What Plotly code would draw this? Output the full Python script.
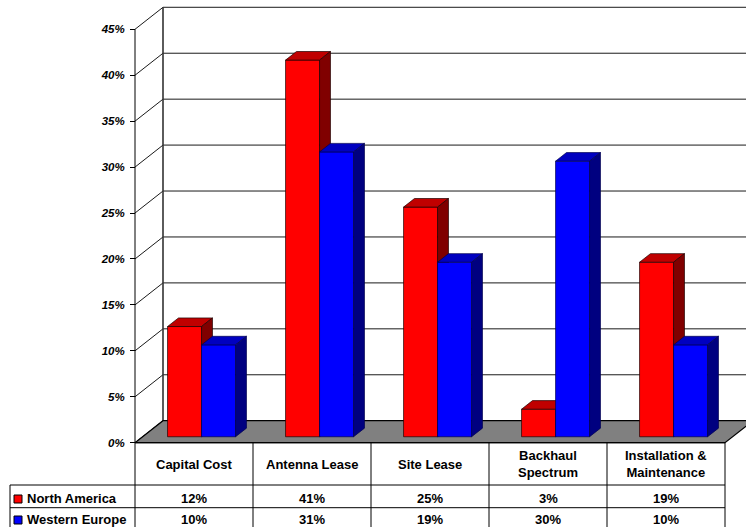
import plotly.graph_objects as go

# ---------------- data ----------------
categories = ["Capital Cost", "Antenna Lease", "Site Lease", "Backhaul<br>Spectrum", "Installation &<br>Maintenance"]
series_names = ["North America", "Western Europe"]
north_america = [12, 41, 25, 3, 19]
western_europe = [10, 31, 19, 30, 10]
tick_values = [0, 5, 10, 15, 20, 25, 30, 35, 40, 45]

# ---------------- layout constants (pixel geometry) ----------------
W, H = 746, 527
PX_X0 = 135.0        # front-left corner of plot (px)
CAT_W = 118.0        # px per category
Y0_PX = 442.7        # 0% baseline (px)
PX_PER_PCT = 9.187   # px per 1%

def xu(px):  # pixel x -> data x
    return (px - PX_X0) / CAT_W

def yu(py):  # pixel y -> data y
    return (Y0_PX - py) / PX_PER_PCT

X_RANGE = [xu(0), xu(W)]
Y_RANGE = [yu(H), yu(0)]
DX = 28 / CAT_W
DY = 22 / PX_PER_PCT
Z0, Z1 = 0.27, 0.66
BW = 34 / CAT_W
NCAT = len(categories)
YMAX = tick_values[-1]

FONT = "Liberation Sans, Arial, sans-serif"

fig = go.Figure()

# ---------- walls: gridlines ----------
gx, gy = [], []
for v in tick_values:
    gx += [0, DX, NCAT + DX + 0.3, None]
    gy += [v, v + DY, v + DY, None]
fig.add_trace(go.Scatter(x=gx, y=gy, mode="lines", line=dict(color="#1a1a1a", width=1),
                         hoverinfo="skip", showlegend=False))
# back wall left edge
fig.add_trace(go.Scatter(x=[DX, DX], y=[DY, YMAX + DY], mode="lines",
                         line=dict(color="#333333", width=1.6), hoverinfo="skip", showlegend=False))
# front axis line
fig.add_trace(go.Scatter(x=[0, 0], y=[0, YMAX], mode="lines",
                         line=dict(color="black", width=1), hoverinfo="skip", showlegend=False))
# floor
fig.add_trace(go.Scatter(x=[0, NCAT, NCAT + DX, DX, 0], y=[0, 0, DY, DY, 0], mode="lines",
                         fill="toself", fillcolor="#808080", line=dict(color="black", width=1.2),
                         hoverinfo="skip", showlegend=False))

# ---------- bars ----------
styles = [
    dict(front="#FF0000", top="#C00000", side="#800000", edge="#200000"),
    dict(front="#0000FF", top="#0000C0", side="#000080", edge="#000050"),
]

def faces(s, values):
    fx, fy, tx, ty, sx, sy = [], [], [], [], [], []
    a0, b0 = Z0 * DX, Z0 * DY
    a1, b1 = Z1 * DX, Z1 * DY
    for i, v in enumerate(values):
        xl = i + 0.5 - BW + s * BW
        xr = xl + BW
        fx += [xl + a0, xr + a0, xr + a0, xl + a0, xl + a0, None]
        fy += [b0, b0, v + b0, v + b0, b0, None]
        tx += [xl + a0, xr + a0, xr + a1, xl + a1, xl + a0, None]
        ty += [v + b0, v + b0, v + b1, v + b1, v + b0, None]
        sx += [xr + a0, xr + a1, xr + a1, xr + a0, xr + a0, None]
        sy += [b0, b1, v + b1, v + b0, b0, None]
    return (fx, fy), (tx, ty), (sx, sy)

for s, vals in enumerate([north_america, western_europe]):
    st = styles[s]
    (fx, fy), (tx, ty), (sx, sy) = faces(s, vals)
    for (xx, yy), col in [((fx, fy), st["front"]), ((tx, ty), st["top"]), ((sx, sy), st["side"])]:
        fig.add_trace(go.Scatter(x=xx, y=yy, mode="lines", fill="toself", fillcolor=col,
                                 line=dict(color=st["edge"], width=0.7),
                                 hoverinfo="skip", showlegend=False))

# ---------- data table ----------
row_top = 0.0
row_h1 = yu(485)
row_h2 = yu(507.7)
row_bottom = Y_RANGE[0]
left_col = xu(10)

shapes = []
def line(x0, y0, x1, y1, w=1):
    shapes.append(dict(type="line", x0=x0, y0=y0, x1=x1, y1=y1, xref="x", yref="y",
                       line=dict(color="black", width=w)))

line(0, row_top, NCAT, row_top, 1.2)
line(left_col, row_h1, NCAT, row_h1)
line(left_col, row_h2, NCAT, row_h2)
for i in range(NCAT + 1):
    line(i, row_top, i, row_bottom)
line(left_col, row_h1, left_col, row_bottom)

annotations = []
for i, c in enumerate(categories):
    annotations.append(dict(x=i + 0.5, y=yu(464), text=c, showarrow=False, xref="x", yref="y",
                            xanchor="center", yanchor="middle",
                            font=dict(family=FONT, size=13, color="black", weight="bold")))
for r, (vals, ypx) in enumerate([(north_america, 498.5), (western_europe, 519.5)]):
    for i, v in enumerate(vals):
        annotations.append(dict(x=i + 0.5, y=yu(ypx), text=f"{v}%", showarrow=False,
                                xref="x", yref="y", xanchor="center", yanchor="middle",
                                font=dict(family=FONT, size=13, color="black", weight="bold")))
    annotations.append(dict(x=xu(25), y=yu(ypx), text=series_names[r], showarrow=False,
                            xref="x", yref="y", xanchor="left", yanchor="middle",
                            font=dict(family=FONT, size=13, color="black", weight="bold")))

# legend keys
fig.add_trace(go.Scatter(x=[xu(18), xu(18)], y=[yu(499), yu(520)], mode="markers",
                         marker=dict(symbol="square", size=8,
                                     color=[styles[0]["front"], styles[1]["front"]],
                                     line=dict(color="black", width=1)),
                         hoverinfo="skip", showlegend=False))

fig.update_layout(
    width=W, height=H, autosize=False,
    margin=dict(l=0, r=0, t=0, b=0, pad=0),
    paper_bgcolor="white", plot_bgcolor="white",
    showlegend=False,
    shapes=shapes, annotations=annotations,
    xaxis=dict(range=X_RANGE, visible=False, fixedrange=True),
    yaxis=dict(range=Y_RANGE, anchor="free", position=PX_X0 / W,
               tickvals=tick_values, ticktext=[f"{v}%" for v in tick_values],
               ticks="outside", ticklen=5, tickcolor="black", tickwidth=1,
               ticklabelstandoff=3,
               showgrid=False, zeroline=False, showline=False,
               tickfont=dict(family=FONT, size=11.5, color="black", weight="bold", style="italic"),
               fixedrange=True),
)

fig.write_html("out.html")
